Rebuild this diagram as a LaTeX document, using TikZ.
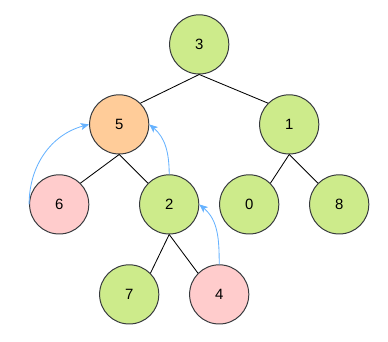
\documentclass[tikz,border=0pt]{standalone}
\usepackage{fontspec}
\setmainfont{Liberation Sans}
\usepackage{tikz}
\usetikzlibrary{arrows.meta}
\definecolor{mystroke}{RGB}{54,57,61}
\definecolor{mygreen}{RGB}{205,235,139}
\definecolor{myorange}{RGB}{255,204,153}
\definecolor{mypink}{RGB}{255,204,204}
\definecolor{myblue}{RGB}{102,178,255}
\tikzset{
  treenode/.style={circle, draw=mystroke, fill=mygreen,
    minimum size=1.48cm, inner sep=0pt, line width=0.7pt,
    font=\fontsize{10.6}{12}\selectfont},
  hotnode/.style={treenode, fill=myorange},
  swapnode/.style={treenode, fill=mypink},
  edge/.style={line width=0.6pt, color=black},
  swaparrow/.style={-{Stealth[length=6pt, width=5pt, inset=1.5pt]}, line width=0.6pt, color=myblue}
}
\begin{document}
\begin{tikzpicture}
  \useasboundingbox (0,0) rectangle (9.7,-8.55);
  % level 0
  \node[treenode] (n3) at (4.98, -1.11) {3};

  % level 1
  \node[hotnode] (n5) at (2.98, -3.11) {5};
  \node[treenode] (n1) at (7.23, -3.11) {1};

  % level 2
  \node[swapnode] (n6) at (1.48, -5.11) {6};
  \node[treenode] (n2) at (4.23, -5.11) {2};
  \node[treenode] (n0) at (6.23, -5.11) {0};
  \node[treenode] (n8) at (8.48, -5.11) {8};

  % level 3
  \node[treenode] (n7) at (3.23, -7.36) {7};
  \node[swapnode] (n4) at (5.48, -7.36) {4};

  % Tree edges
  \draw[edge] (n3.south) -- (n5.north east);
  \draw[edge] (n3.south) -- (n1.north west);
  \draw[edge] (n5.south) -- (n6.north east);
  \draw[edge] (n5.south) -- (n2.north west);
  \draw[edge] (n1.south) -- (n0.north east);
  \draw[edge] (n1.south) -- (n8.north west);
  \draw[edge] (n2.south) -- (n7.north east);
  \draw[edge] (n2.south) -- (n4.north west);

  % Swap arrows
  \draw[swaparrow] (n6.west) to[out=90, in=195] (n5.west);
  \draw[swaparrow] (n2.north) to[out=90, in=-40] (n5.east);
  \draw[swaparrow] (n4.north) to[out=90, in=-40] (n2.east);
\end{tikzpicture}
\end{document}
